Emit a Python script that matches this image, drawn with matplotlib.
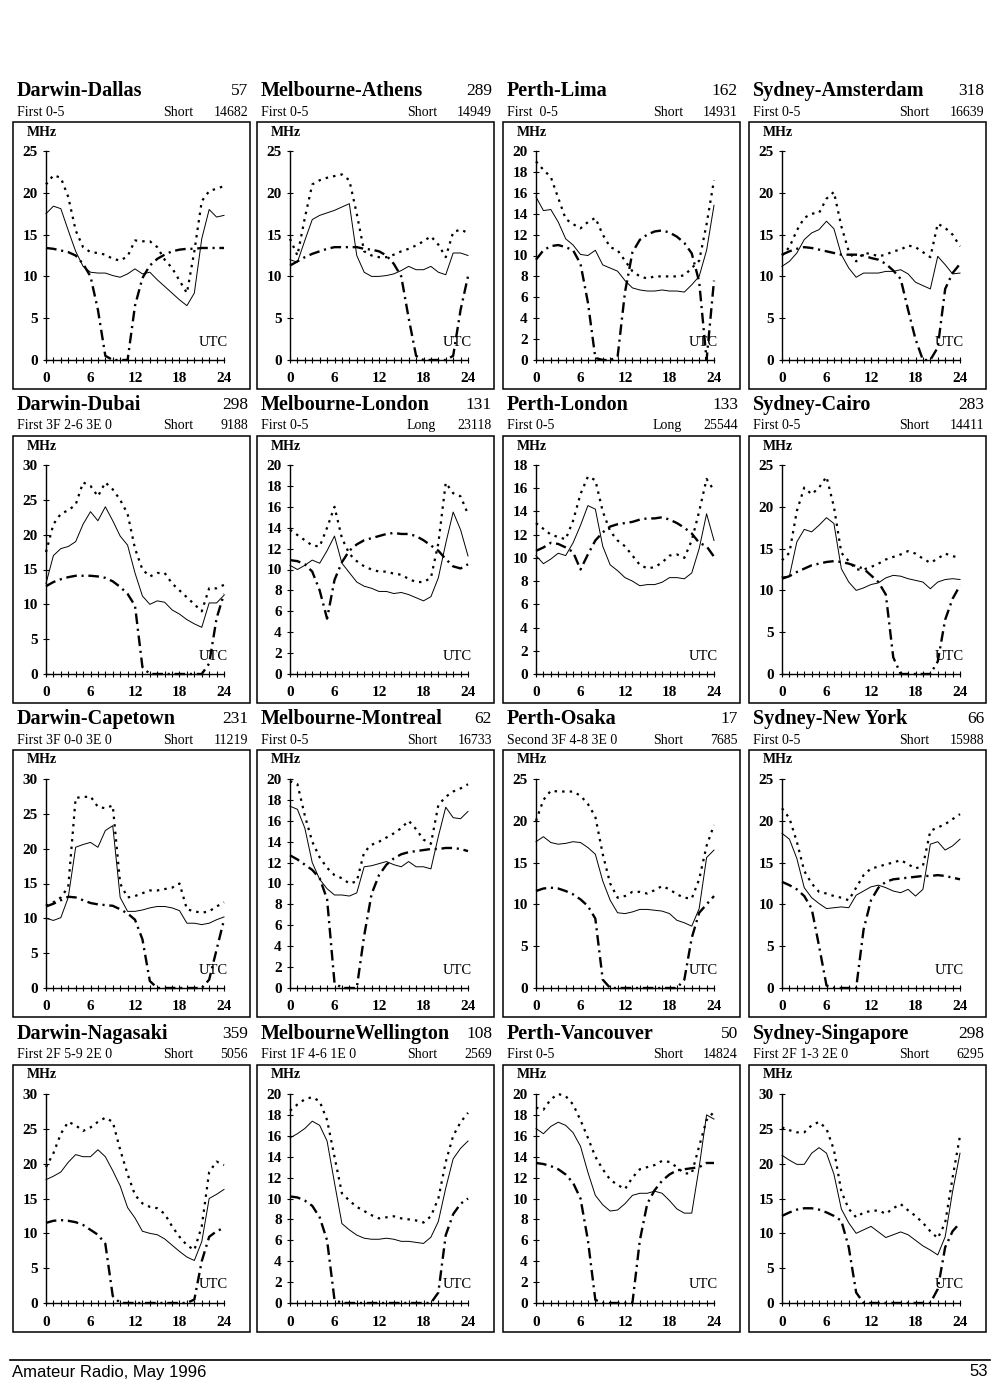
import matplotlib
matplotlib.use('Agg')
import matplotlib.pyplot as plt
from matplotlib.patches import Rectangle
from matplotlib.lines import Line2D

# page size in pixels
W, H = 1000, 1388

plt.rcParams['font.family'] = ['Liberation Serif', 'DejaVu Serif']

hours = list(range(25))

# -- DATA (MHz, one value per UTC hour) --
# solid = optimum, dotted = MUF, dash-dot = lower limit
dallas_solid = [17.5, 18.4, 18.1, 15.5, 13.0, 11.2, 10.5, 10.4, 10.4, 10.1, 9.9, 10.3, 10.9, 10.3, 10.5, 9.6, 8.8, 8.0, 7.2, 6.5, 8.0, 14.5, 18.0, 17.1, 17.3]
dallas_dot = [21.0, 22.1, 21.8, 19.5, 15.5, 13.5, 12.9, 12.8, 12.6, 12.1, 11.9, 12.4, 14.3, 14.2, 14.2, 13.5, 12.0, 11.0, 9.5, 8.0, 13.0, 19.0, 20.2, 20.5, 20.8]
dallas_dash = [13.4, 13.3, 13.1, 12.9, 12.5, 11.5, 10.0, 6.0, 0.5, 0, 0, 0, 6.5, 9.8, 11.3, 12.1, 12.6, 13.0, 13.2, 13.3, 13.3, 13.4, 13.4, 13.4, 13.4]

athens_solid = [12.0, 11.7, 14.3, 16.8, 17.3, 17.6, 17.9, 18.3, 18.7, 12.5, 10.5, 10.0, 10.0, 10.1, 10.3, 10.7, 11.2, 10.8, 10.8, 11.2, 10.5, 10.2, 12.8, 12.8, 12.5]
athens_dot = [14.5, 12.5, 17.0, 21.0, 21.5, 21.8, 22.0, 22.2, 21.5, 17.5, 13.0, 12.5, 12.3, 12.3, 12.6, 13.0, 13.3, 13.7, 14.2, 14.8, 13.8, 12.3, 15.3, 15.6, 15.2]
athens_dash = [11.3, 11.8, 12.3, 12.7, 13.0, 13.3, 13.5, 13.5, 13.5, 13.5, 13.3, 13.2, 13.0, 12.5, 11.5, 10.0, 5.0, 0.5, 0, 0, 0, 0, 0.5, 6.0, 10.0]

lima_solid = [15.6, 14.3, 14.4, 13.2, 11.6, 11.0, 10.1, 10.0, 10.5, 9.1, 8.8, 8.5, 7.6, 6.9, 6.7, 6.6, 6.6, 6.7, 6.6, 6.6, 6.5, 7.2, 8.0, 10.5, 14.8]
lima_dot = [19.0, 18.2, 17.5, 15.5, 13.5, 13.0, 12.6, 13.2, 13.6, 12.0, 10.8, 10.5, 9.5, 8.5, 8.0, 7.8, 8.0, 8.0, 8.0, 8.0, 8.1, 8.8, 9.5, 13.0, 17.2]
lima_dash = [9.6, 10.5, 10.9, 11.0, 10.8, 10.5, 9.2, 5.5, 0.2, 0, 0, 0.3, 6.5, 10.3, 11.5, 12.0, 12.3, 12.4, 12.2, 11.8, 11.2, 10.2, 7.5, 0, 7.6]

amst_solid = [11.2, 11.8, 12.8, 14.4, 15.2, 15.6, 16.6, 15.7, 12.6, 11.0, 9.9, 10.4, 10.4, 10.4, 10.6, 10.6, 10.8, 10.3, 9.3, 8.9, 8.5, 12.4, 11.4, 10.3, 10.4]
amst_dot = [12.5, 13.5, 15.5, 17.0, 17.5, 17.6, 19.3, 20.1, 16.0, 13.0, 11.8, 12.8, 12.7, 12.4, 12.6, 13.0, 13.2, 13.7, 13.5, 12.9, 12.3, 16.3, 15.8, 15.0, 13.6]
amst_dash = [12.6, 13.0, 13.3, 13.5, 13.4, 13.2, 13.0, 12.8, 12.6, 12.6, 12.6, 12.5, 12.2, 12.0, 11.5, 10.7, 9.7, 6.0, 2.5, 0, 0, 1.5, 8.5, 10.4, 11.5]

dubai_solid = [13.0, 17.0, 18.0, 18.3, 19.0, 21.5, 23.3, 22.0, 24.0, 22.0, 19.8, 18.5, 14.5, 11.2, 10.0, 10.5, 10.3, 9.2, 8.6, 7.8, 7.2, 6.7, 10.2, 10.2, 11.3]
dubai_dot = [17.5, 21.5, 23.0, 23.5, 24.3, 27.5, 27.0, 25.5, 27.5, 26.5, 25.0, 23.0, 18.0, 15.0, 14.0, 14.5, 14.5, 13.0, 12.0, 11.0, 10.0, 9.0, 12.3, 12.3, 12.8]
dubai_dash = [12.6, 13.2, 13.6, 13.9, 14.1, 14.1, 14.1, 14.0, 13.8, 13.3, 12.5, 11.5, 9.8, 1.0, 0, 0, 0, 0, 0, 0, 0, 0, 1.5, 8.0, 11.5]

mlon_solid = [10.4, 10.0, 10.4, 10.9, 10.6, 11.8, 13.2, 10.6, 9.7, 8.8, 8.4, 8.2, 7.9, 7.9, 7.7, 7.8, 7.6, 7.3, 7.0, 7.4, 9.2, 12.5, 15.5, 13.8, 11.3]
mlon_dot = [13.8, 13.3, 12.8, 12.3, 12.2, 14.0, 16.0, 13.0, 11.5, 10.8, 10.3, 10.0, 9.8, 9.8, 9.6, 9.5, 9.1, 8.8, 8.8, 9.2, 12.5, 18.3, 17.3, 17.0, 15.3]
mlon_dash = [10.9, 10.8, 10.5, 9.8, 8.0, 5.3, 9.0, 10.7, 11.8, 12.4, 12.8, 13.0, 13.2, 13.4, 13.5, 13.4, 13.4, 13.2, 12.8, 12.3, 11.8, 11.0, 10.3, 10.1, 10.5]

plon_solid = [10.2, 9.5, 9.9, 10.4, 10.2, 11.3, 12.8, 14.5, 14.2, 11.0, 9.4, 8.9, 8.3, 8.0, 7.6, 7.7, 7.7, 7.9, 8.3, 8.3, 8.2, 8.7, 10.8, 13.8, 11.5]
plon_dot = [13.0, 12.5, 12.0, 11.8, 11.6, 13.2, 15.5, 17.0, 16.7, 14.0, 12.3, 11.5, 11.0, 10.2, 9.4, 9.1, 9.2, 9.6, 10.2, 10.3, 10.0, 11.5, 14.0, 16.8, 15.8]
plon_dash = [10.6, 10.9, 11.3, 11.2, 10.9, 10.5, 9.0, 10.3, 11.5, 12.2, 12.7, 12.9, 13.0, 13.1, 13.3, 13.4, 13.4, 13.5, 13.3, 13.0, 12.6, 12.1, 11.3, 11.0, 10.1]

cairo_solid = [11.6, 11.7, 15.8, 17.3, 17.0, 17.8, 18.7, 18.0, 12.6, 11.0, 10.0, 10.3, 10.7, 10.9, 11.5, 11.8, 11.7, 11.4, 11.2, 11.0, 10.2, 11.0, 11.3, 11.4, 11.3]
cairo_dot = [13.6, 14.5, 19.5, 22.3, 21.5, 22.3, 23.6, 20.0, 14.5, 13.5, 12.5, 12.5, 12.8, 13.2, 13.7, 14.0, 14.3, 14.7, 14.4, 13.8, 13.3, 13.8, 14.4, 14.1, 13.9]
cairo_dash = [11.4, 11.7, 12.2, 12.6, 13.0, 13.2, 13.4, 13.5, 13.4, 13.2, 12.9, 12.6, 11.8, 11.0, 9.5, 2.0, 0, 0, 0, 0, 0, 1.5, 6.5, 9.0, 10.6]

cape_solid = [10.0, 9.7, 10.1, 13.0, 20.2, 20.6, 20.9, 20.2, 22.6, 23.3, 13.0, 11.0, 11.0, 11.2, 11.5, 11.7, 11.7, 11.5, 11.1, 9.3, 9.3, 9.1, 9.3, 9.8, 10.2]
cape_dot = [11.8, 12.3, 13.0, 14.5, 27.3, 27.4, 27.5, 26.0, 25.8, 26.2, 15.0, 13.0, 13.2, 13.6, 14.0, 14.0, 14.2, 14.4, 15.0, 11.3, 11.0, 10.8, 11.0, 11.7, 12.3]
cape_dash = [11.7, 12.1, 12.6, 13.1, 13.0, 12.6, 12.2, 12.0, 11.9, 11.8, 11.3, 10.7, 9.8, 7.0, 1.0, 0, 0, 0, 0, 0, 0, 0, 1.2, 5.5, 9.8]

mont_solid = [17.4, 17.1, 15.3, 12.0, 10.4, 9.5, 8.9, 8.9, 8.8, 9.1, 11.6, 11.7, 11.9, 12.1, 11.8, 11.6, 12.1, 11.6, 11.6, 11.4, 14.5, 17.3, 16.3, 16.2, 16.9]
mont_dot = [19.8, 19.5, 16.5, 14.0, 12.5, 11.5, 10.8, 10.5, 10.0, 10.2, 13.0, 13.7, 14.0, 14.4, 14.8, 15.3, 16.0, 15.2, 14.2, 13.8, 17.5, 18.3, 18.8, 19.1, 19.5]
mont_dash = [12.7, 12.3, 11.8, 11.3, 10.5, 8.5, 0.5, 0, 0, 0, 5.0, 9.0, 10.8, 11.8, 12.4, 12.8, 13.0, 13.1, 13.2, 13.3, 13.3, 13.4, 13.4, 13.3, 13.1]

osaka_solid = [17.5, 18.1, 17.4, 17.2, 17.3, 17.5, 17.4, 16.8, 16.0, 12.8, 10.5, 9.0, 8.9, 9.1, 9.4, 9.4, 9.3, 9.2, 8.9, 8.1, 7.8, 7.4, 9.5, 15.6, 16.5]
osaka_dot = [20.0, 22.5, 23.6, 23.5, 23.5, 23.5, 23.0, 22.0, 20.5, 16.0, 12.5, 10.8, 11.0, 11.5, 11.5, 11.3, 11.7, 12.2, 11.8, 11.2, 10.8, 10.7, 13.0, 17.0, 19.5]
osaka_dash = [11.6, 11.9, 12.0, 11.9, 11.6, 11.2, 10.6, 9.8, 8.3, 1.0, 0, 0, 0, 0, 0, 0, 0, 0, 0, 0, 1.0, 6.0, 9.0, 10.0, 11.0]

ny_solid = [18.5, 17.8, 15.5, 12.0, 10.8, 10.1, 9.5, 9.6, 9.7, 9.6, 11.1, 11.6, 12.1, 12.3, 12.0, 11.6, 11.4, 11.8, 11.0, 11.8, 17.2, 17.5, 16.5, 17.0, 17.8]
ny_dot = [21.5, 20.3, 17.5, 14.0, 12.5, 11.5, 11.3, 11.0, 10.8, 10.5, 12.0, 13.5, 14.3, 14.5, 14.8, 15.0, 15.3, 14.8, 14.3, 14.6, 18.8, 19.2, 19.6, 20.2, 20.8]
ny_dash = [12.7, 12.3, 11.8, 11.0, 9.5, 5.0, 0.3, 0, 0, 0, 0, 7.0, 10.5, 12.0, 12.7, 13.0, 13.1, 13.2, 13.3, 13.4, 13.4, 13.5, 13.4, 13.2, 13.0]

naga_solid = [17.7, 18.2, 18.8, 20.2, 21.3, 21.0, 21.0, 22.0, 21.0, 19.0, 16.8, 13.7, 12.2, 10.3, 10.0, 9.8, 9.2, 8.3, 7.4, 6.6, 6.1, 8.8, 15.0, 15.6, 16.3]
naga_dot = [19.5, 21.5, 24.3, 26.0, 25.5, 24.7, 25.2, 26.0, 26.6, 26.0, 22.0, 18.5, 15.5, 14.3, 13.8, 13.6, 12.8, 11.0, 9.5, 8.3, 7.6, 11.0, 18.8, 20.3, 19.8]
naga_dash = [11.5, 11.8, 11.9, 11.8, 11.6, 11.2, 10.5, 9.8, 8.5, 1.0, 0, 0, 0, 0, 0, 0, 0, 0, 0, 0, 0.5, 6.0, 9.5, 10.3, 10.8]

well_solid = [15.8, 16.2, 16.7, 17.4, 17.0, 15.5, 11.5, 7.6, 7.0, 6.5, 6.2, 6.1, 6.1, 6.2, 6.1, 5.9, 5.9, 5.8, 5.7, 6.3, 7.8, 11.0, 13.8, 14.8, 15.5]
well_dot = [18.4, 19.0, 19.5, 19.7, 19.3, 17.5, 14.0, 10.5, 9.8, 9.2, 8.8, 8.4, 8.1, 8.2, 8.3, 8.1, 8.0, 7.9, 7.7, 8.3, 10.0, 13.5, 16.0, 17.3, 18.2]
well_dash = [10.2, 10.1, 9.8, 9.3, 8.2, 6.0, 0.3, 0, 0, 0, 0, 0, 0, 0, 0, 0, 0, 0, 0, 0, 1.0, 6.5, 8.5, 9.5, 10.0]

van_solid = [16.7, 16.2, 16.9, 17.3, 17.0, 16.3, 15.0, 12.5, 10.3, 9.4, 8.8, 8.9, 9.5, 10.3, 10.5, 10.5, 10.7, 10.5, 9.8, 9.0, 8.6, 8.6, 13.0, 18.0, 17.6]
van_dot = [18.7, 18.5, 19.5, 20.0, 19.8, 19.0, 17.5, 15.8, 14.0, 12.8, 11.8, 11.3, 10.9, 12.0, 12.8, 13.0, 13.2, 13.6, 13.5, 13.0, 12.4, 12.4, 15.0, 17.5, 18.3]
van_dash = [13.4, 13.3, 13.1, 12.8, 12.3, 11.5, 10.0, 6.0, 0.3, 0, 0, 0, 0, 0, 6.0, 9.5, 10.8, 11.7, 12.3, 12.7, 12.8, 12.9, 13.0, 13.4, 13.4]

sing_solid = [21.2, 20.5, 19.9, 19.9, 21.5, 22.3, 21.5, 18.5, 13.5, 11.5, 10.0, 10.5, 11.0, 10.2, 9.4, 9.8, 10.2, 9.8, 9.0, 8.2, 7.6, 6.9, 9.5, 16.0, 21.5]
sing_dot = [25.2, 24.8, 24.5, 24.5, 25.5, 26.0, 25.0, 22.0, 16.0, 13.5, 12.3, 13.0, 13.2, 13.3, 12.8, 13.6, 14.2, 13.3, 12.5, 11.5, 10.3, 9.3, 11.5, 18.0, 24.0]
sing_dash = [12.5, 13.0, 13.4, 13.6, 13.6, 13.4, 13.0, 12.5, 11.8, 8.0, 1.5, 0, 0, 0, 0, 0, 0, 0, 0, 0, 0, 2.0, 8.0, 10.3, 11.5]

# panel headings
paths = ['Darwin-Dallas', 'Melbourne-Athens', 'Perth-Lima', 'Sydney-Amsterdam',
         'Darwin-Dubai', 'Melbourne-London', 'Perth-London', 'Sydney-Cairo',
         'Darwin-Capetown', 'Melbourne-Montreal', 'Perth-Osaka', 'Sydney-New York',
         'Darwin-Nagasaki', 'MelbourneWellington', 'Perth-Vancouver', 'Sydney-Singapore']
bearings = ['57', '289', '162', '318', '298', '131', '133', '283',
            '231', '62', '17', '66', '359', '108', '50', '298']
modes = ['First 0-5', 'First 0-5', 'First  0-5', 'First 0-5',
         'First 3F 2-6 3E 0', 'First 0-5', 'First 0-5', 'First 0-5',
         'First 3F 0-0 3E 0', 'First 0-5', 'Second 3F 4-8 3E 0', 'First 0-5',
         'First 2F 5-9 2E 0', 'First 1F 4-6 1E 0', 'First 0-5', 'First 2F 1-3 2E 0']
routes = ['Short', 'Short', 'Short', 'Short', 'Short', 'Long', 'Long', 'Short',
          'Short', 'Short', 'Short', 'Short', 'Short', 'Short', 'Short', 'Short']
distances = ['14682', '14949', '14931', '16639', '9188', '23118', '25544', '14411',
             '11219', '16733', '7685', '15988', '5056', '2569', '14824', '6295']
y_max = [25, 25, 20, 25, 30, 20, 18, 25, 30, 20, 25, 25, 30, 20, 20, 30]

series = [
    (dallas_solid, dallas_dot, dallas_dash), (athens_solid, athens_dot, athens_dash),
    (lima_solid, lima_dot, lima_dash), (amst_solid, amst_dot, amst_dash),
    (dubai_solid, dubai_dot, dubai_dash), (mlon_solid, mlon_dot, mlon_dash),
    (plon_solid, plon_dot, plon_dash), (cairo_solid, cairo_dot, cairo_dash),
    (cape_solid, cape_dot, cape_dash), (mont_solid, mont_dot, mont_dash),
    (osaka_solid, osaka_dot, osaka_dash), (ny_solid, ny_dot, ny_dash),
    (naga_solid, naga_dot, naga_dash), (well_solid, well_dot, well_dash),
    (van_solid, van_dot, van_dash), (sing_solid, sing_dot, sing_dash),
]

# -- LAYOUT (pixels) --
col_left = [13, 257, 503, 749]
row_top = [122, 436, 750, 1065]
box_w, box_h = 237, 267


def fx(x):
    return x / W


def fy(y):
    return 1 - y / H


fig = plt.figure(figsize=(W / 100, H / 100), dpi=100)
fig.patch.set_facecolor('white')

for i in range(16):
    r, c = divmod(i, 4)
    bl, bt = col_left[c], row_top[r]
    br, bb = bl + box_w, bt + box_h

    # heading lines
    fig.text(fx(bl + 4), fy(bt - 31), paths[i], fontsize=14.5, fontweight='bold',
             ha='left', va='center')
    fig.text(fx(br - 2), fy(bt - 31), bearings[i], fontsize=12.5,
             ha='right', va='center')
    fig.text(fx(bl + 4), fy(bt - 10), modes[i], fontsize=10, ha='left', va='center')
    fig.text(fx(bl + 150), fy(bt - 10), routes[i], fontsize=10, ha='left', va='center')
    fig.text(fx(br - 2), fy(bt - 10), distances[i], fontsize=10, ha='right', va='center')

    # frame
    fig.add_artist(Rectangle((fx(bl), fy(bb)), box_w / W, box_h / H,
                             transform=fig.transFigure, fill=False,
                             lw=1.1, ec='black'))

    # plot area
    pl, pr = bl + 33, bl + 211
    ptop, pbot = bt + 29, bb - 29
    ax = fig.add_axes([fx(pl), fy(pbot), (pr - pl) / W, (pbot - ptop) / H])
    ax.set_facecolor('none')

    solid, dot, dash = series[i]
    ax.plot(hours, solid, color='black', lw=0.7, clip_on=False)
    ax.plot(hours, dot, color='black', lw=1.6, linestyle=(0, (1.1, 2.3)),
            clip_on=False)
    ax.plot(hours, dash, color='black', lw=1.7, linestyle=(0, (4.5, 2.0, 0.9, 2.0)),
            clip_on=False)

    ax.set_xlim(0, 24)
    ax.set_ylim(0, y_max[i])
    ax.spines['top'].set_visible(False)
    ax.spines['right'].set_visible(False)
    ax.spines['left'].set_linewidth(1.0)
    ax.spines['bottom'].set_linewidth(1.0)

    ax.set_xticks(hours)
    ax.set_xticklabels([str(h) if h % 6 == 0 else '' for h in hours])
    step = 5 if y_max[i] >= 25 else 2
    ax.set_yticks(list(range(0, y_max[i] + 1, step)))
    ax.tick_params(direction='inout', length=4, width=0.8,
                   labelsize=11, pad=4)
    ax.tick_params(axis='x', pad=7)
    for lab in ax.get_xticklabels() + ax.get_yticklabels():
        lab.set_fontweight('bold')

    fig.text(fx(bl + 14), fy(bt + 10), 'MHz', fontsize=10, fontweight='bold',
             ha='left', va='center')
    fig.text(fx(pr + 4), fy(pbot - 18), 'UTC', fontsize=10.5,
             ha='right', va='center')

# -- FOOTER --
fig.add_artist(Line2D([fx(10), fx(990)], [fy(1360), fy(1360)],
                      transform=fig.transFigure, color='black', lw=1.2))
fig.text(fx(12), fy(1372), 'Amateur Radio, May 1996', fontsize=12,
         family='Liberation Sans', ha='left', va='center')
fig.text(fx(988), fy(1372), '53', fontsize=12,
         family='Liberation Sans', ha='right', va='center')

fig.savefig('out.png', dpi=100, facecolor='white')
